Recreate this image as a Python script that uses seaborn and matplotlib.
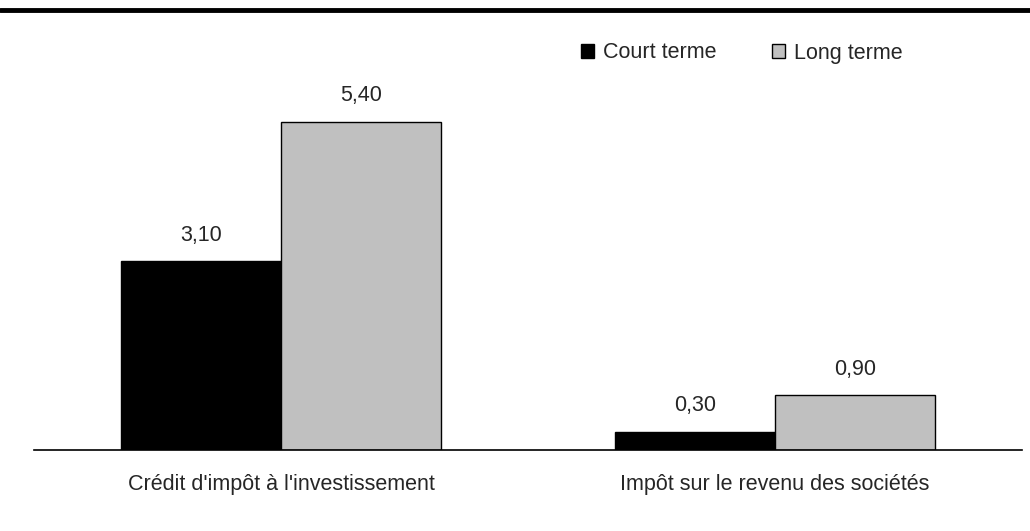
import numpy as np
import pandas as pd
import matplotlib
matplotlib.use('Agg')
import matplotlib.pyplot as plt
from matplotlib.patches import Patch
from matplotlib.lines import Line2D
import seaborn as sns

#chart data
categories=["Crédit d'impôt à l'investissement","Impôt sur le revenu des sociétés"]
series=['Court terme','Long terme']
court_terme=[3.10,0.30]
long_terme=[5.40,0.90]
colors=['black','#C0C0C0']

df=pd.DataFrame({'categorie':categories*2,
                 'serie':[series[0]]*2+[series[1]]*2,
                 'valeur':court_terme+long_terme})

sns.set_style('white')
plt.rcParams['font.family']=['Liberation Sans','DejaVu Sans']

fig=plt.figure(figsize=(10.3,5.31),dpi=100)
ax=fig.add_axes([34/1030,1-450/531,988/1030,410/531])

sns.barplot(data=df,x='categorie',y='valeur',hue='serie',palette=colors,
            width=0.646,edgecolor='black',linewidth=1,saturation=1,
            legend=False,ax=ax)

#value labels with french decimal comma
for cont,vals in zip(ax.containers,[court_terme,long_terme]):
    ax.bar_label(cont,labels=[f'{v:.2f}'.replace('.',',') for v in vals],
                 padding=11,fontsize=15.5)

ax.set_xlim(-0.5,1.5)
ax.set_ylim(0,6.74)
ax.set_xlabel('')
ax.set_ylabel('')
ax.set_yticks([])
ax.tick_params(axis='x',length=0,pad=17,labelsize=15.5)
for s in ['top','left','right']:
    ax.spines[s].set_visible(False)
ax.spines['bottom'].set_color('black')
ax.spines['bottom'].set_linewidth(1.2)

#legend
handles=[Patch(facecolor=c,edgecolor='black',linewidth=1) for c in colors]
fig.legend(handles,series,loc='center',bbox_to_anchor=(742/1030,1-53/531),
           ncol=2,frameon=False,fontsize=15.5,handlelength=0.6,handleheight=0.6,
           handletextpad=0.42,columnspacing=2.6)

#thick rule at top of figure
fig.add_artist(Line2D([0,1],[1-9.5/531,1-9.5/531],color='black',linewidth=3.5,
                      transform=fig.transFigure))

fig.savefig('out.png',dpi=100)
